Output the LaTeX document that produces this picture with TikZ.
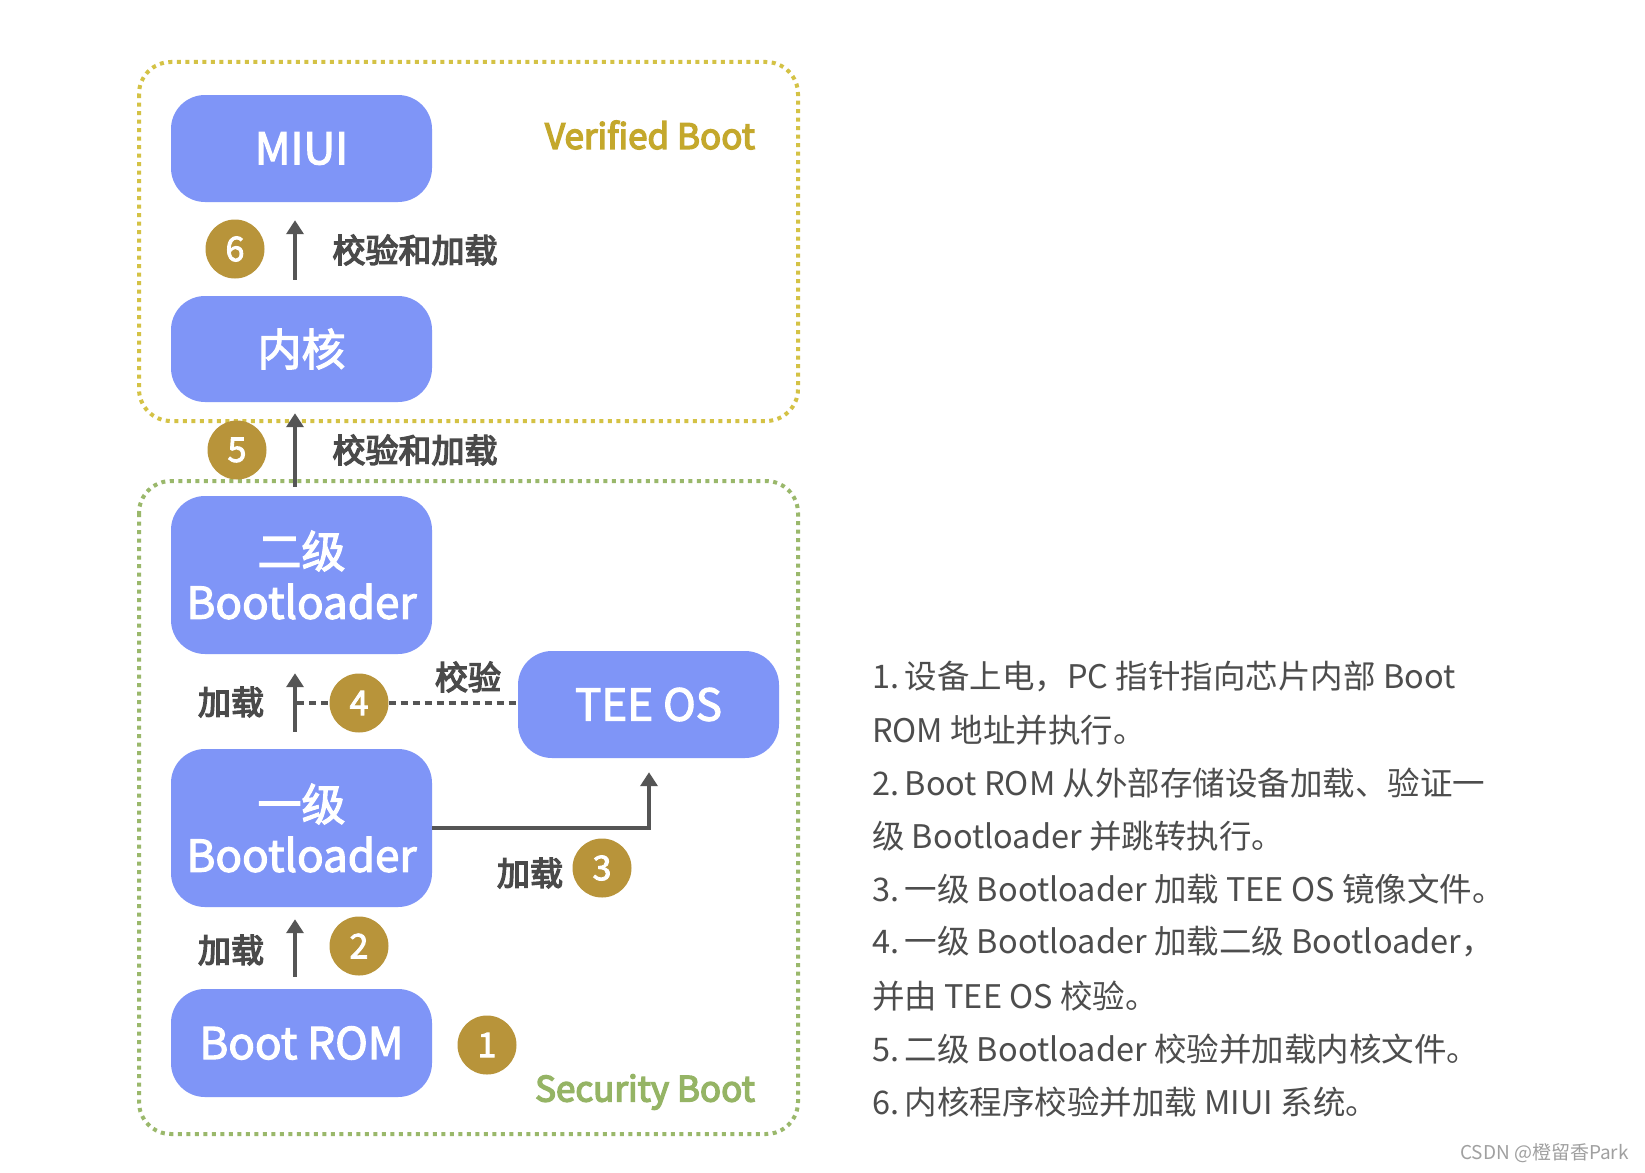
\documentclass[tikz,border=0pt]{standalone}
\usepackage{fontspec}
\setmainfont{Noto Sans CJK SC}
\newfontfamily\medfont[FakeBold=2.6]{Noto Sans CJK SC}
\newfontfamily\semifont[FakeBold=4]{Noto Sans CJK SC}
\usetikzlibrary{arrows.meta}
\definecolor{boxblue}{HTML}{7F95F7}
\definecolor{gold}{HTML}{B8943A}
\definecolor{vbtext}{HTML}{C4A82C}
\definecolor{vbline}{HTML}{D4C245}
\definecolor{sbline}{HTML}{9AB86B}
\definecolor{sbtext}{HTML}{95B465}
\definecolor{arrgray}{HTML}{555555}
\definecolor{labgray}{HTML}{4A4A4A}
\definecolor{bodygray}{HTML}{4D4D4D}
\definecolor{wmgray}{HTML}{A0A0A0}
\begin{document}
\begin{tikzpicture}[x=1pt,y=-1pt,
  stage/.style={fill=boxblue, rounded corners=34pt, minimum width=261pt, text=white,
    font=\medfont\fontsize{44}{51}\selectfont, align=center, inner sep=0pt},
  badge/.style={circle, fill=gold, minimum size=59pt, inner sep=0pt, text=white,
    font=\medfont\fontsize{34}{36}\selectfont},
  lab/.style={text=labgray, font=\semifont\fontsize{33}{36}\selectfont, inner sep=0pt},
  zonelab/.style={font=\semifont\fontsize{35}{40}\selectfont, inner sep=0pt},
  arr/.style={draw=arrgray, line width=4pt, -{Triangle[width=17pt,length=14pt]}},
  dashln/.style={draw=arrgray, line width=3.5pt, dash pattern=on 7pt off 5pt},
  zone/.style={line width=4pt, dash pattern=on 4pt off 4.5pt, rounded corners=32pt},
  body/.style={anchor=west, text=bodygray, font=\fontsize{32.5}{36}\selectfont, inner sep=0pt}
]
\useasboundingbox (0,0) rectangle (1645,1172);
\fill[white] (0,0) rectangle (1645,1172);

% zones
\draw[zone, draw=vbline] (139,62) rectangle (798,421);
\draw[zone, draw=sbline] (139,481) rectangle (798,1134);
\node[zonelab, text=vbtext] (vb) at (650,135) {Verified Boot};
\node[zonelab, text=sbtext] (sb) at (645,1092) {Security Boot};

% stages
\node[stage, minimum height=107pt] (miui) at (301.5,148.5) {MIUI};
\node[stage, minimum height=106pt] (kern) at (301.5,349) {内核};
\node[stage, minimum height=158pt] (bl2) at (301.5,575) {二级\\Bootloader};
\node[stage, minimum height=107pt] (tee) at (648.5,704.5) {TEE OS};
\node[stage, minimum height=158pt] (bl1) at (301.5,828) {一级\\Bootloader};
\node[stage, minimum height=108pt] (rom) at (301.5,1043) {Boot ROM};

% arrows
\draw[arr, shorten <=16pt, shorten >=18pt] ([xshift=-6.5pt]kern.north) -- ([xshift=-6.5pt]miui.south);
\draw[arr, shorten <=9pt, shorten >=11pt] ([xshift=-6.5pt]bl2.north) -- ([xshift=-6.5pt]kern.south);
\draw[arr, shorten <=17pt, shorten >=19pt] ([xshift=-6.5pt]bl1.north) -- ([xshift=-6.5pt]bl2.south);
\draw[arr, shorten <=12pt, shorten >=12pt] ([xshift=-6.5pt]rom.north) -- ([xshift=-6.5pt]bl1.south);
\draw[arr, shorten >=14pt] (bl1.east) -| ([xshift=0.5pt]tee.south);

% dashed verify line
\coordinate (d4) at (297,703);
\node[badge] (c4) at (359,703) {4};
\draw[dashln] (d4) -- (c4.west);
\draw[dashln] (c4.east) -- (tee.west |- c4.east);

% badges
\node[badge] (c6) at (235,249) {6};
\node[badge] (c5) at (237,450) {5};
\node[badge] (c3) at (602,868) {3};
\node[badge] (c2) at (359,946) {2};
\node[badge] (c1) at (487,1045) {1};

% labels
\node[lab] (l6) at (415,250) {校验和加载};
\node[lab] (l5) at (415,450) {校验和加载};
\node[lab] (l4) at (231,702) {加载};
\node[lab] (lv) at (468,677) {校验};
\node[lab] (l3) at (530,873) {加载};
\node[lab] (l2) at (231,950) {加载};

% description
\node[body] (t1) at (872,677) {1.\,设备上电，PC 指针指向芯片内部 Boot};
\node[body] (t2) at (872,730) {ROM 地址并执行。};
\node[body] (t3) at (872,783) {2.\,Boot ROM 从外部存储设备加载、验证一};
\node[body] (t4) at (872,836) {级 Bootloader 并跳转执行。};
\node[body] (t5) at (872,889) {3.\,一级 Bootloader 加载 TEE OS 镜像文件。};
\node[body] (t6) at (872,942) {4.\,一级 Bootloader 加载二级 Bootloader，};
\node[body] (t7) at (872,996) {并由 TEE OS 校验。};
\node[body] (t8) at (872,1049) {5.\,二级 Bootloader 校验并加载内核文件。};
\node[body] (t9) at (872,1102) {6.\,内核程序校验并加载 MIUI 系统。};

\node[anchor=east, text=wmgray, font=\fontsize{19}{22}\selectfont, inner sep=0pt] (wm) at (1629,1153) {CSDN @橙留香Park};
\end{tikzpicture}
\end{document}
